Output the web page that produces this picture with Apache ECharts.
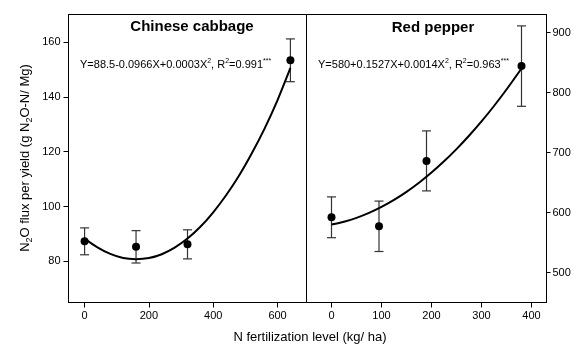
<!DOCTYPE html>
<html>
<head>
<meta charset="utf-8">
<script src="https://cdn.jsdelivr.net/npm/echarts@6/dist/echarts.min.js"></script>
<style>
  html, body { margin: 0; padding: 0; background: #fff; }
  #chart { width: 575px; height: 344px; }
</style>
</head>
<body>
<div id="chart"></div>
<script>
// Chinese cabbage (left panel)
const cabbageX = [0, 160, 320, 640];
const cabbageY = [87.3, 85.3, 86.2, 153.3];
const cabbageErr = [4.9, 5.9, 5.3, 7.8];
const cabbageFitX = [0, 40, 80, 120, 160, 200, 240, 280, 320, 360, 400, 440, 480, 520, 560, 600, 640];
const cabbageFitY = [88.3, 85.1, 82.7, 81.2, 80.8, 81.2, 82.6, 85.0, 88.3, 92.6, 97.9, 104.1, 111.2, 119.4, 128.5, 138.8, 150.5];

// Red pepper (right panel)
const pepperX = [0, 95, 190, 380];
const pepperY = [592, 577, 686, 844];
const pepperErr = [34, 42, 50, 67];
const pepperFitX = [0, 25, 50, 75, 100, 125, 150, 175, 200, 225, 250, 275, 300, 325, 350, 380];
const pepperFitY = [580, 584.7, 591, 599.3, 609.3, 621, 634.4, 649.6, 666.5, 685.3, 705.7, 727.9, 751.8, 777.5, 805, 840];

// tick labels
const cabbageXTicks = [0, 200, 400, 600];
const cabbageYTicks = [80, 100, 120, 140, 160];
const pepperXTicks = [0, 100, 200, 300, 400];
const pepperYTicks = [500, 600, 700, 800, 900];

const FONT = 'Liberation Sans, Arial, sans-serif';

const chart = echarts.init(document.getElementById('chart'));

function errBars(xs, ys, es) {
  return xs.map((x, i) => [x, ys[i] - es[i], ys[i] + es[i]]);
}
function pairs(xs, ys) {
  return xs.map((x, i) => [x, ys[i]]);
}

function renderErr(params, api) {
  const x = api.value(0);
  const lo = api.coord([x, api.value(1)]);
  const hi = api.coord([x, api.value(2)]);
  const w = 4.5;
  const st = { stroke: '#333', lineWidth: 1.2 };
  return {
    type: 'group',
    children: [
      { type: 'line', shape: { x1: lo[0], y1: lo[1], x2: hi[0], y2: hi[1] }, style: st },
      { type: 'line', shape: { x1: hi[0] - w, y1: hi[1], x2: hi[0] + w, y2: hi[1] }, style: st },
      { type: 'line', shape: { x1: lo[0] - w, y1: lo[1], x2: lo[0] + w, y2: lo[1] }, style: st }
    ]
  };
}

const tickLabel = { color: '#000', fontSize: 11, fontFamily: FONT };
const axLine = { show: true, onZero: false, lineStyle: { color: '#000' } };

const eqRich = {
  n: { fontSize: 11, fontFamily: FONT, color: '#000', lineHeight: 14 },
  sup: { fontSize: 7, fontFamily: FONT, color: '#000', verticalAlign: 'top', lineHeight: 7 }
};
const nameRich = {
  n: { fontSize: 13, fontFamily: FONT, color: '#000', lineHeight: 18 },
  sub: { fontSize: 9, fontFamily: FONT, color: '#000', verticalAlign: 'bottom', lineHeight: 9 }
};

const option = {
  backgroundColor: '#fff',
  animation: false,
  grid: [
    { left: 68.5, right: 268.5, top: 14.5, bottom: 41.5, show: true, borderColor: '#000', borderWidth: 1 },
    { left: 306.5, right: 28.5, top: 14.5, bottom: 41.5, show: true, borderColor: '#000', borderWidth: 1 }
  ],
  xAxis: [
    {
      gridIndex: 0, type: 'value', min: -50, max: 690,
      axisLine: axLine,
      axisTick: { show: true, length: 5, customValues: cabbageXTicks, lineStyle: { color: '#000' } },
      axisLabel: Object.assign({ margin: 8, customValues: cabbageXTicks }, tickLabel),
      splitLine: { show: false }
    },
    {
      gridIndex: 1, type: 'value', min: -50, max: 430,
      axisLine: axLine,
      axisTick: { show: true, length: 5, customValues: pepperXTicks, lineStyle: { color: '#000' } },
      axisLabel: Object.assign({ margin: 8, customValues: pepperXTicks }, tickLabel),
      splitLine: { show: false }
    }
  ],
  yAxis: [
    {
      gridIndex: 0, type: 'value', min: 65, max: 170,
      axisLine: axLine,
      axisTick: { show: true, length: 5, customValues: cabbageYTicks, lineStyle: { color: '#000' } },
      axisLabel: Object.assign({ margin: 8, customValues: cabbageYTicks }, tickLabel),
      splitLine: { show: false }
    },
    {
      gridIndex: 1, type: 'value', position: 'right', min: 450, max: 930,
      axisLine: axLine,
      axisTick: { show: true, length: 4, customValues: pepperYTicks, lineStyle: { color: '#000' } },
      axisLabel: Object.assign({ margin: 6, customValues: pepperYTicks }, tickLabel),
      splitLine: { show: false }
    }
  ],
  graphic: [
    {
      type: 'text', x: 192, y: 27,
      style: { text: 'Chinese cabbage', font: 'bold 15px ' + FONT, fill: '#000', align: 'center', verticalAlign: 'middle' }
    },
    {
      type: 'text', x: 433, y: 28,
      style: { text: 'Red pepper', font: 'bold 15px ' + FONT, fill: '#000', align: 'center', verticalAlign: 'middle' }
    },
    {
      type: 'text', x: 80, y: 65,
      style: {
        text: '{n|Y=88.5-0.0966X+0.0003X}{sup|2}{n|, R}{sup|2}{n|=0.991}{sup|***}',
        rich: eqRich, align: 'left', verticalAlign: 'middle'
      }
    },
    {
      type: 'text', x: 318, y: 65,
      style: {
        text: '{n|Y=580+0.1527X+0.0014X}{sup|2}{n|, R}{sup|2}{n|=0.963}{sup|***}',
        rich: eqRich, align: 'left', verticalAlign: 'middle'
      }
    },
    {
      type: 'text', x: 310, y: 337,
      style: { text: 'N fertilization level (kg/ ha)', font: '13px ' + FONT, fill: '#000', align: 'center', verticalAlign: 'middle' }
    },
    {
      type: 'text', x: 25, y: 158, rotation: Math.PI / 2,
      style: {
        text: '{n|N}{sub|2}{n|O flux per yield (g N}{sub|2}{n|O-N/ Mg)}',
        rich: nameRich, align: 'center', verticalAlign: 'middle'
      }
    }
  ],
  series: [
    {
      type: 'line', xAxisIndex: 0, yAxisIndex: 0, smooth: 0.3, showSymbol: false,
      lineStyle: { color: '#000', width: 2 }, data: pairs(cabbageFitX, cabbageFitY), z: 3
    },
    {
      type: 'custom', xAxisIndex: 0, yAxisIndex: 0, renderItem: renderErr,
      encode: { x: 0, y: [1, 2] }, data: errBars(cabbageX, cabbageY, cabbageErr), z: 2
    },
    {
      type: 'scatter', xAxisIndex: 0, yAxisIndex: 0, symbolSize: 8,
      itemStyle: { color: '#000', opacity: 1 }, data: pairs(cabbageX, cabbageY), z: 4
    },
    {
      type: 'line', xAxisIndex: 1, yAxisIndex: 1, smooth: 0.3, showSymbol: false,
      lineStyle: { color: '#000', width: 2 }, data: pairs(pepperFitX, pepperFitY), z: 3
    },
    {
      type: 'custom', xAxisIndex: 1, yAxisIndex: 1, renderItem: renderErr,
      encode: { x: 0, y: [1, 2] }, data: errBars(pepperX, pepperY, pepperErr), z: 2
    },
    {
      type: 'scatter', xAxisIndex: 1, yAxisIndex: 1, symbolSize: 8,
      itemStyle: { color: '#000', opacity: 1 }, data: pairs(pepperX, pepperY), z: 4
    }
  ]
};

chart.setOption(option);
</script>
</body>
</html>
